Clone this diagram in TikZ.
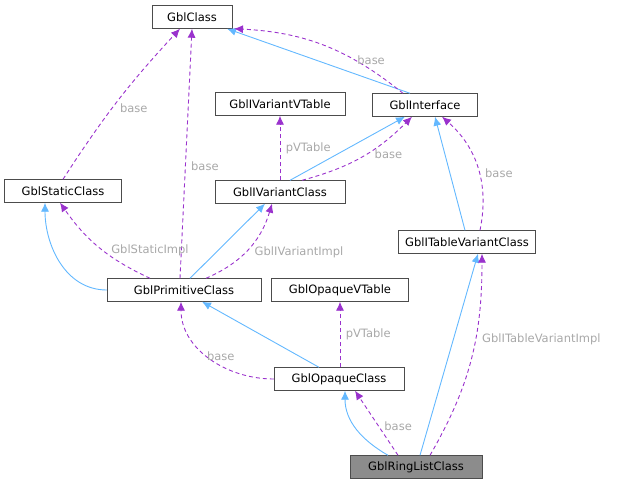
\documentclass[tikz,border=0pt]{standalone}
\usepackage{fontspec}
\setmainfont{DejaVu Sans}
\usetikzlibrary{arrows.meta}
\definecolor{inh}{HTML}{63B8FF}
\definecolor{use}{HTML}{9A32CD}
\definecolor{lbl}{HTML}{A8A8A8}
\tikzset{
	cls/.style= {
		rectangle,
		draw=black!70,
		fill=white,
		font=\fontsize{11.5}{13}\selectfont,
		minimum height=23pt,
		inner sep=2pt
	},
	inherit/.style= {
		inh,
		line width=0.9pt,
		-{Latex[length=9pt,width=8pt]}
	},
	uses/.style= {
		use,
		line width=0.9pt,
		dash pattern=on 4pt off 3pt,
		-{Latex[length=9pt,width=8pt]}
	},
	lab/.style= {
		lbl,
		font=\fontsize{11.5}{13}\selectfont
	}
}

\begin{document}
\begin{tikzpicture}[x=1pt,y=-1pt]
	\useasboundingbox (0,0) rectangle (623,487);
	\node (class)[cls, minimum width=80pt] at (192,17) {GblClass};
	\node (ivtable)[cls, minimum width=130pt] at (280,104) {GblIVariantVTable};
	\node (iface)[cls, minimum width=105pt] at (425,105) {GblInterface};
	\node (static)[cls, minimum width=117pt] at (63,191) {GblStaticClass};
	\node (ivariant)[cls, minimum width=130pt] at (280,192) {GblIVariantClass};
	\node (itable)[cls, minimum width=137pt] at (467,242) {GblITableVariantClass};
	\node (prim)[cls, minimum width=154pt] at (184,290) {GblPrimitiveClass};
	\node (ovtable)[cls, minimum width=137pt] at (340,290) {GblOpaqueVTable};
	\node (opaque)[cls, minimum width=130pt] at (339,379) {GblOpaqueClass};
	\node (ring)[cls, fill=black!45, minimum width=132pt] at (416,467) {GblRingListClass};
	
	% interfaces
	\draw[inherit] ([xshift=-15pt]iface.north) to ([xshift=35pt]class.south);
	\draw[uses] ([xshift=-22pt]iface.north) to[bend right=18] node[lab, pos=0.2, above=1pt] {base} ([xshift=42pt]class.south);
	\draw[uses] (static.north) to[bend left=5] node[lab, pos=0.45, right=4pt] {base} ([xshift=-12pt]class.south);
	\draw[uses] ([xshift=-4pt]prim.north) to node[lab, pos=0.45, right=2pt] {base} (class.south);
	\draw[uses] (ivariant.north) to node[lab, right=2pt] {pVTable} (ivtable.south);
	\draw[inherit] ([xshift=10pt]ivariant.north) to ([xshift=-20pt]iface.south);
	\draw[uses] ([xshift=22pt]ivariant.north) to[bend right=15] node[lab, pos=0.55, right=4pt] {base} ([xshift=-13pt]iface.south);
	\draw[inherit] ([xshift=-2pt]itable.north) to ([xshift=10pt]iface.south);
	\draw[uses] ([xshift=13pt]itable.north) to[bend right=30] node[lab, pos=0.45, right=2pt] {base} ([xshift=17pt]iface.south);
	
	% primitive
	\draw[inherit] (prim.west) to[out=180, in=-90] ([xshift=-18pt]static.south);
	\draw[uses] ([xshift=-34pt]prim.north) to[bend left=15] node[lab, pos=0.45, right=4pt] {GblStaticImpl} ([xshift=-3pt]static.south);
	\draw[inherit] ([xshift=6pt]prim.north) to ([xshift=-15pt]ivariant.south);
	\draw[uses] ([xshift=22pt]prim.north) to[bend right=25] node[lab, pos=0.45, right=6pt] {GblIVariantImpl} ([xshift=-8pt]ivariant.south);
	
	% opaque
	\draw[inherit] ([xshift=-20pt]opaque.north) to ([xshift=18pt]prim.south);
	\draw[uses] (opaque.west) to[out=180, in=-90] node[lab, pos=0.4, above=1pt] {base} ([xshift=-3pt]prim.south);
	\draw[uses] ([xshift=1pt]opaque.north) to node[lab, right=2pt] {pVTable} (ovtable.south);
	
	% ring list
	\draw[inherit] ([xshift=-28pt]ring.north) to[out=150, in=-90] ([xshift=6pt]opaque.south);
	\draw[uses] ([xshift=-18pt]ring.north) to node[lab, pos=0.45, right=2pt] {base} ([xshift=16pt]opaque.south);
	\draw[inherit] ([xshift=4pt]ring.north) to ([xshift=11pt]itable.south);
	\draw[uses] ([xshift=14pt]ring.north) to[out=60, in=-90] node[lab, pos=0.6, right=3pt] {GblITableVariantImpl} ([xshift=15pt]itable.south);
\end{tikzpicture}
\end{document}
